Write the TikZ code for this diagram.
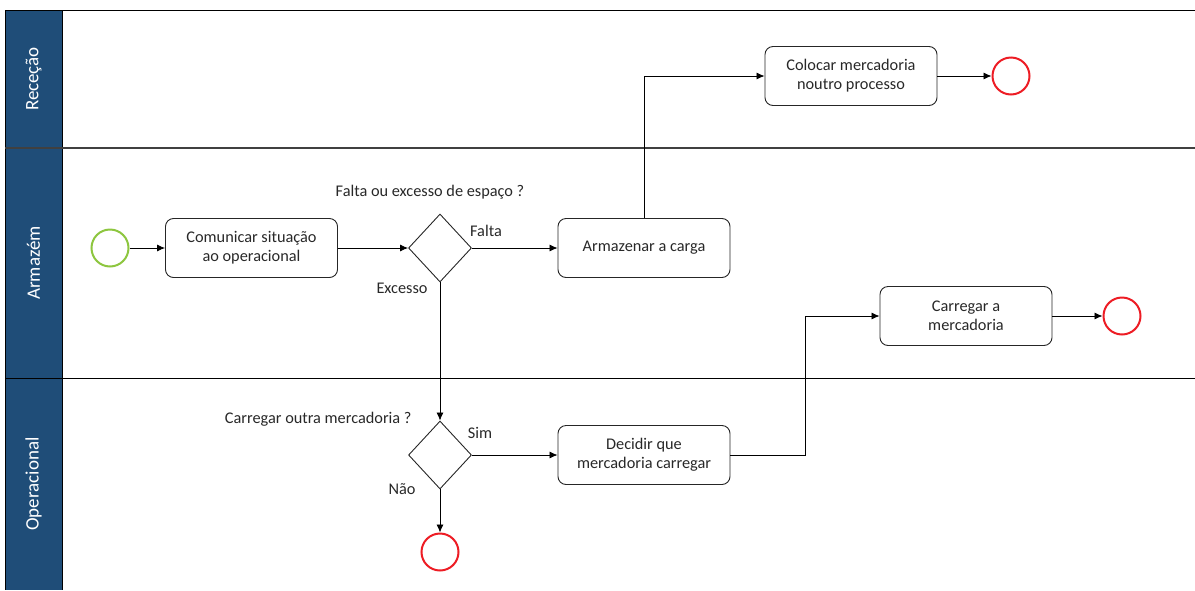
\documentclass[tikz,border=0pt]{standalone}
\usepackage{fontspec}
\setmainfont{Carlito}
\usetikzlibrary{shapes.geometric,arrows.meta}
\definecolor{lanehead}{RGB}{31,77,120}
\definecolor{startgreen}{RGB}{141,198,63}
\definecolor{endred}{RGB}{237,28,36}
\definecolor{ink}{RGB}{40,40,40}
\begin{document}
\begin{tikzpicture}[x=1pt,y=-1pt,
  every node/.style={font=\fontsize{16.3pt}{19pt}\selectfont, text=ink},
  task/.style={draw=black!85, line width=0.9pt, rounded corners=8pt, minimum width=172pt, minimum height=59pt, align=center, inner sep=2pt},
  gateway/.style={draw=black!85, line width=0.9pt, diamond, minimum width=63pt, minimum height=68pt, inner sep=0pt},
  startev/.style={draw=startgreen, line width=2pt, circle, minimum size=37pt, inner sep=0pt},
  endev/.style={draw=endred, line width=2pt, circle, minimum size=37pt, inner sep=0pt},
  flow/.style={draw=black, line width=0.8pt, -{Latex[length=8pt,width=7pt]}},
  lanelabel/.style={rotate=90, text=white, font=\fontsize{19pt}{22pt}\selectfont}
]
\useasboundingbox (0,0) rectangle (1195,590);

% lane headers
\fill[lanehead] (5,10) rectangle (62,590);
\node[lanelabel] (hrec) at (33.5,79) {Receção};
\node[lanelabel] (harm) at (33.5,263) {Armazém};
\node[lanelabel] (hop) at (33.5,484) {Operacional};

% pool frame and lane separators
\draw[black, line width=0.9pt] (1195,10) -- (5,10) -- (5,590);
\draw[black, line width=0.9pt] (62,10) -- (62,590);
\draw[black!75, line width=1.6pt] (5,148) -- (1195,148);
\draw[black, line width=0.9pt] (5,378) -- (1195,378);

% Armazém lane
\node[startev] (start) at (110,248) {};
\node[task] (comunicar) at (251.5,248) {Comunicar situação\\ao operacional};
\node[gateway] (g1) at (440,248) {};
\node (q1) at (430,192) {Falta ou excesso de espaço ?};
\node (lfalta) at (486,231) {Falta};
\node (lexcesso) at (402,288) {Excesso};
\node[task] (armazenar) at (644,248) {Armazenar a carga};
\node[task] (carregar) at (966,316) {Carregar a\\mercadoria};
\node[endev] (end2) at (1122,316) {};

% Receção lane
\node[task] (colocar) at (851,76) {Colocar mercadoria\\noutro processo};
\node[endev] (end1) at (1011,76) {};

% Operacional lane
\node[gateway] (g2) at (440,455) {};
\node[anchor=east] (q2) at (415,419) {Carregar outra mercadoria ?};
\node (lsim) at (480,433) {Sim};
\node (lnao) at (402,489) {Não};
\node[task] (decidir) at (644,455) {Decidir que\\mercadoria carregar};
\node[endev] (end3) at (440,552) {};
\coordinate (bend) at (805,455);

% sequence flows
\draw[flow] (start) -- (comunicar);
\draw[flow] (comunicar.east) -- (g1.west);
\draw[flow] (g1.east) -- (armazenar.west);
\draw[flow] (armazenar.north) |- (colocar.west);
\draw[flow] (colocar.east) -- (end1);
\draw[flow] (g1.south) -- (g2.north);
\draw[flow] (g2.east) -- (decidir.west);
\draw[flow] (g2.south) -- (end3);
\draw[flow] (decidir.east) -- (bend) |- (carregar.west);
\draw[flow] (carregar.east) -- (end2);
\end{tikzpicture}
\end{document}
